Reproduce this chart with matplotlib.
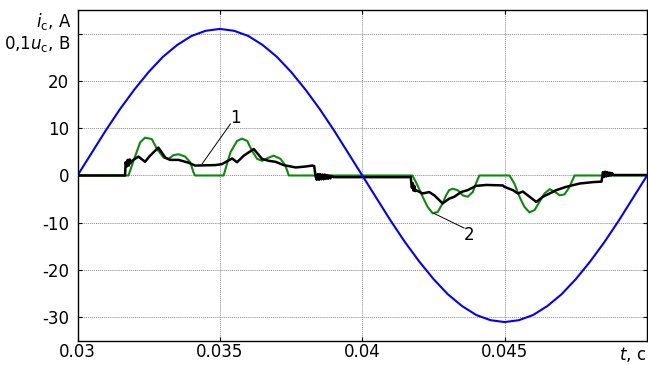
import numpy as np
import matplotlib.pyplot as plt

plt.rcParams['font.family'] = ['DejaVu Sans']
plt.rcParams['mathtext.fontset'] = 'dejavusans'

# supply voltage 0,1*u_c (sampled every 0.5 ms)
blue_t = np.linspace(0.03, 0.05, 41)
blue_v = [0, 4.8, 9.6, 14.1, 18.2, 21.9, 25.1, 27.6, 29.5, 30.6, 31.0,
          30.6, 29.5, 27.6, 25.1, 21.9, 18.2, 14.1, 9.6, 4.8, 0,
          -4.8, -9.6, -14.1, -18.2, -21.9, -25.1, -27.6, -29.5, -30.6, -31.0,
          -30.6, -29.5, -27.6, -25.1, -21.9, -18.2, -14.1, -9.6, -4.8, 0]

# curve 2 (green)
green_t = [0.03000, 0.03167, 0.03179, 0.03199, 0.03220, 0.03237, 0.03261, 0.03279,
           0.03302, 0.03319, 0.03337, 0.03355, 0.03378, 0.03396, 0.03407, 0.03413,
           0.03513, 0.03537, 0.03560, 0.03578, 0.03596, 0.03613, 0.03631, 0.03648,
           0.03672, 0.03689, 0.03713, 0.03730, 0.03742,
           0.04176, 0.04194, 0.04212, 0.04229, 0.04247, 0.04265, 0.04282, 0.04294,
           0.04305, 0.04317, 0.04335, 0.04353, 0.04370, 0.04388, 0.04399, 0.04411,
           0.04517, 0.04534, 0.04552, 0.04569, 0.04587, 0.04605, 0.04622, 0.04640,
           0.04658, 0.04675, 0.04693, 0.04710, 0.04728, 0.04745, 0.05000]
green_v = [0, 0, 0, 3.5, 7.0, 8.0, 7.7, 5.6,
           3.8, 3.5, 4.3, 4.5, 4.0, 2.8, 0.7, 0,
           0, 4.9, 7.3, 7.8, 7.3, 5.2, 3.5, 3.1,
           3.8, 4.2, 3.5, 2.1, 0,
           0, -2.1, -4.5, -6.6, -8.0, -7.7, -5.9, -4.2,
           -3.1, -2.8, -3.1, -4.2, -4.5, -3.5, -1.7, 0,
           0, -1.7, -4.5, -6.6, -7.8, -7.3, -5.6, -3.8,
           -2.9, -3.4, -4.2, -4.0, -2.4, 0, 0]

# curve 1 (black)
black_t = [0.03000, 0.03167, 0.03169, 0.03173, 0.03176, 0.03180, 0.03183, 0.03186,
           0.03191, 0.03214, 0.03237, 0.03255, 0.03284, 0.03308, 0.03325, 0.03355,
           0.03390, 0.03413, 0.03484, 0.03507, 0.03543, 0.03560, 0.03584, 0.03619,
           0.03648, 0.03672, 0.03695, 0.03724, 0.03766, 0.03801, 0.03824, 0.03831,
           0.03836, 0.03840, 0.03844, 0.03848, 0.03852, 0.03856, 0.03860, 0.03864,
           0.03868, 0.03872, 0.03876, 0.03880, 0.03884, 0.03888, 0.03893, 0.03899,
           0.04163, 0.04170, 0.04174, 0.04177, 0.04180, 0.04183, 0.04186, 0.04188,
           0.04212, 0.04235, 0.04253, 0.04282, 0.04305, 0.04323, 0.04347, 0.04370,
           0.04399, 0.04435, 0.04493, 0.04499, 0.04529, 0.04546, 0.04564, 0.04581,
           0.04611, 0.04634, 0.04658, 0.04681, 0.04716, 0.04763, 0.04810, 0.04840,
           0.04845, 0.04849, 0.04853, 0.04857, 0.04861, 0.04865, 0.04869, 0.04873,
           0.04877, 0.04882, 0.05000]
black_v = [0, 0, 2.8, 1.9, 3.3, 2.1, 3.4, 2.6,
           3.1, 4.0, 2.9, 4.2, 5.9, 3.8, 3.3, 3.3,
           2.7, 2.1, 2.2, 2.4, 3.6, 2.8, 4.2, 5.6,
           3.5, 3.1, 2.9, 2.2, 1.7, 1.9, 2.1, 2.0,
           -0.2, -0.9, 0.3, -0.9, 0.3, -0.8, 0.2, -0.8,
           0.2, -0.7, 0.1, -0.7, 0.0, -0.6, -0.1, -0.35,
           -0.35, -0.3, -2.6, -1.6, -3.2, -2.2, -3.3, -3.1,
           -3.8, -3.5, -4.2, -5.9, -4.9, -4.5, -3.5, -3.1,
           -2.2, -2.0, -2.1, -2.4, -3.1, -3.8, -3.4, -4.2,
           -5.6, -4.5, -3.8, -3.1, -2.4, -1.7, -1.4, -1.3,
           0.7, -0.3, 0.8, -0.2, 0.7, -0.1, 0.6, 0.0,
           0.5, 0.1, 0.1]

x_ticks = [0.03, 0.035, 0.04, 0.045, 0.05]
x_labels = ['0.03', '0.035', '0.04', '0.045', '']
y_ticks = [-30, -20, -10, 0, 10, 20, 30]
y_labels = ['-30', '-20', '-10', '0', '10', '20', '']

fig = plt.figure(figsize=(6.48, 3.65), dpi=100)
ax = fig.add_axes([0.1196, 0.0658, 0.879, 0.9068])

ax.plot(green_t, green_v, color='#0a8a0a', lw=1.5)
ax.plot(black_t, black_v, color='black', lw=1.8)
ax.plot(blue_t, blue_v, color='#0000ff', lw=1.5)

ax.set_xlim(0.03, 0.05)
ax.set_ylim(-35, 35)
ax.set_xticks(x_ticks)
ax.set_xticklabels(x_labels)
ax.set_yticks(y_ticks)
ax.set_yticklabels(y_labels)
ax.grid(True, color='#8a8a8a', linestyle=(0, (1, 1)), lw=0.7)
ax.tick_params(direction='in', length=3, top=True, right=True, labelsize=12, pad=6)
ax.tick_params(axis='x', pad=1.5)
for s in ax.spines.values():
    s.set_linewidth(1.0)

# curve markers
ax.plot([0.03537, 0.03438], [10.9, 2.5], color='black', lw=0.7)
ax.text(0.03554, 12.2, '1', fontsize=12, ha='center', va='center')
ax.plot([0.04357, 0.04251], [-11.1, -8.0], color='black', lw=0.7)
ax.text(0.04375, -12.6, '2', fontsize=12, ha='center', va='center')

# axis captions
fig.text(71 / 648, 1 - 22 / 365, r'$i_{\rm c}$, A', fontsize=12, ha='right', va='center')
fig.text(71 / 648, 1 - 44 / 365, r'0,1$u_{\rm c}$, B', fontsize=12, ha='right', va='center')
fig.text(646 / 648, 1 - 355 / 365, r'$t$, c', fontsize=12, ha='right', va='center')

fig.savefig('out.png', dpi=100)
